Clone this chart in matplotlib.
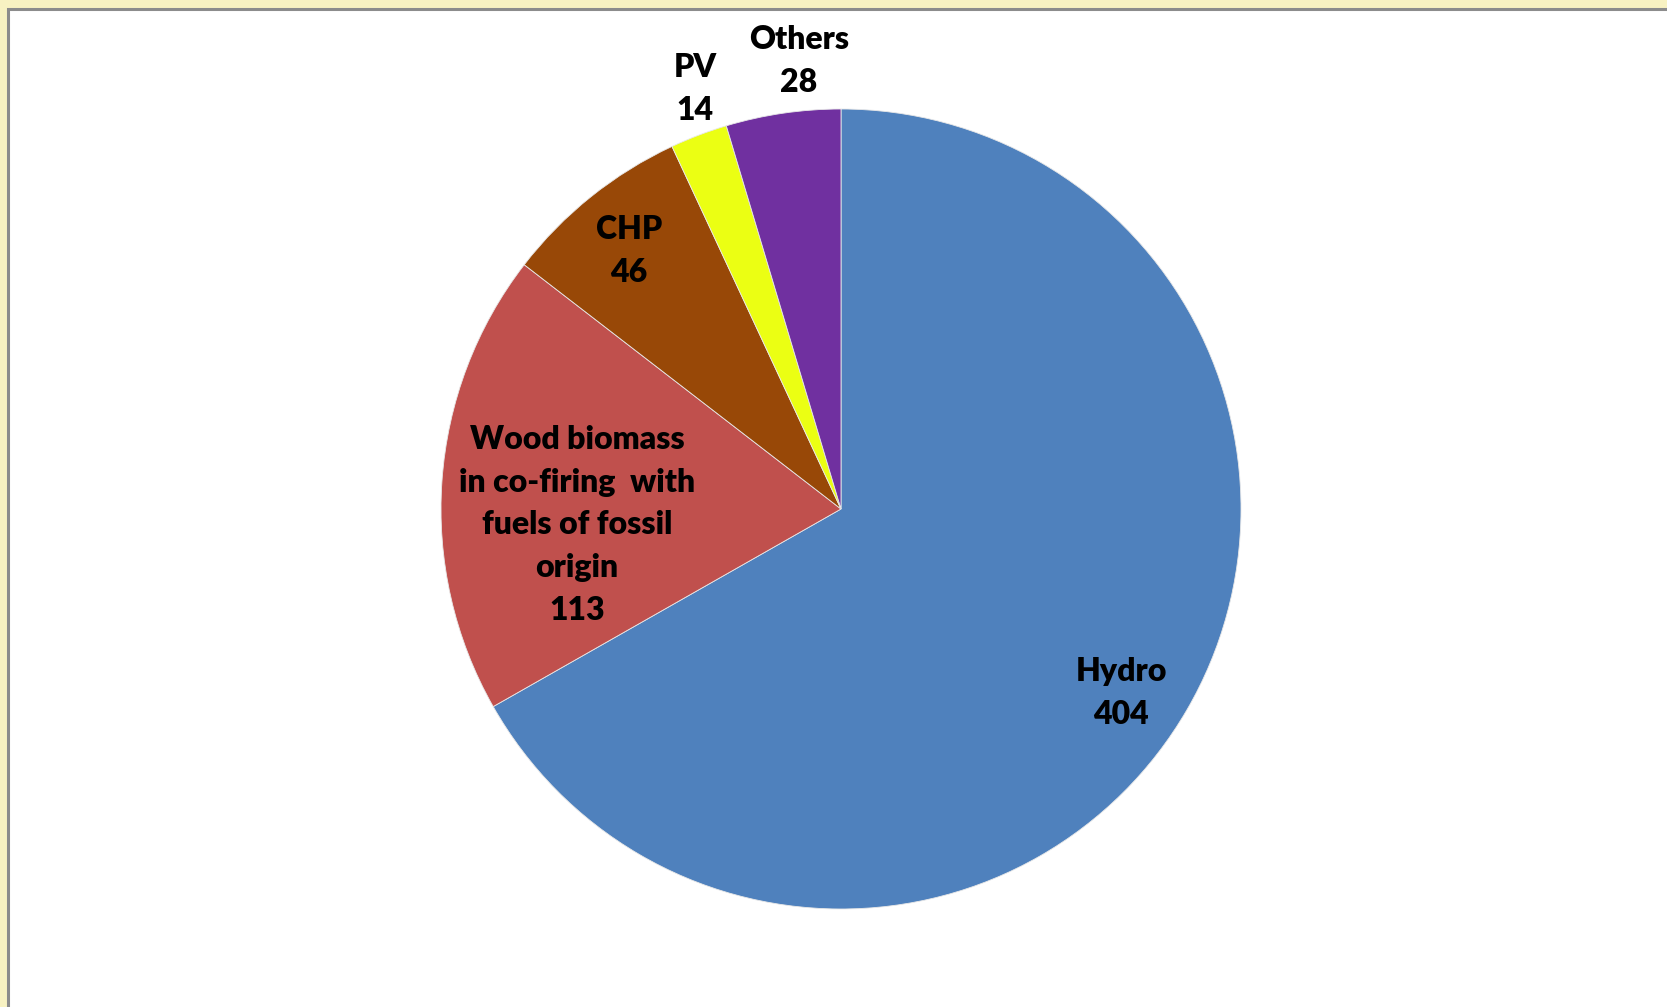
import matplotlib.pyplot as plt
from matplotlib.patches import Rectangle

# Дані
labels = ["Hydro", "Wood biomass\nin co-firing  with\nfuels of fossil\norigin", "CHP", "PV", "Others"]
values = [404, 113, 46, 14, 28]
colors = ["#4F81BD", "#C0504D", "#984807", "#EBFF13", "#7030A0"]

# позиції підписів (в частках радіуса від центру)
label_pos = [(0.70, -0.46), (-0.66, -0.04), (-0.53, 0.645), (-0.365, 1.05), (-0.105, 1.12)]

W, H = 1667, 1007
fig = plt.figure(figsize=(W / 100, H / 100), dpi=100)
fig.patch.set_facecolor("#F8F2C2")

ax = fig.add_axes([0, 0, 1, 1])
ax.set_xlim(0, W)
ax.set_ylim(0, H)
ax.set_aspect("equal")
ax.axis("off")

# біла область з сірою рамкою (обрізана праворуч і знизу)
ax.add_patch(Rectangle((7.5, -50), W + 100, H - 9.3 + 50, facecolor="white",
                       edgecolor="#8C8C8C", linewidth=2.2, zorder=-1))

cx, cy, R = 841, H - 509, 400
ax.pie(values, colors=colors, startangle=90, counterclock=False, center=(cx, cy), radius=R,
       wedgeprops=dict(edgecolor="#E8E8E8", linewidth=0.6))
ax.set_xlim(0, W)
ax.set_ylim(0, H)

for lab, val, (fx, fy) in zip(labels, values, label_pos):
    ax.text(cx + fx * R, cy + fy * R, f"{lab}\n{val}", ha="center", va="center",
            fontsize=23, fontweight="heavy", family=["Lato", "DejaVu Sans"],
            linespacing=1.57, color="black")

fig.savefig("out.png", dpi=100, facecolor=fig.get_facecolor())
